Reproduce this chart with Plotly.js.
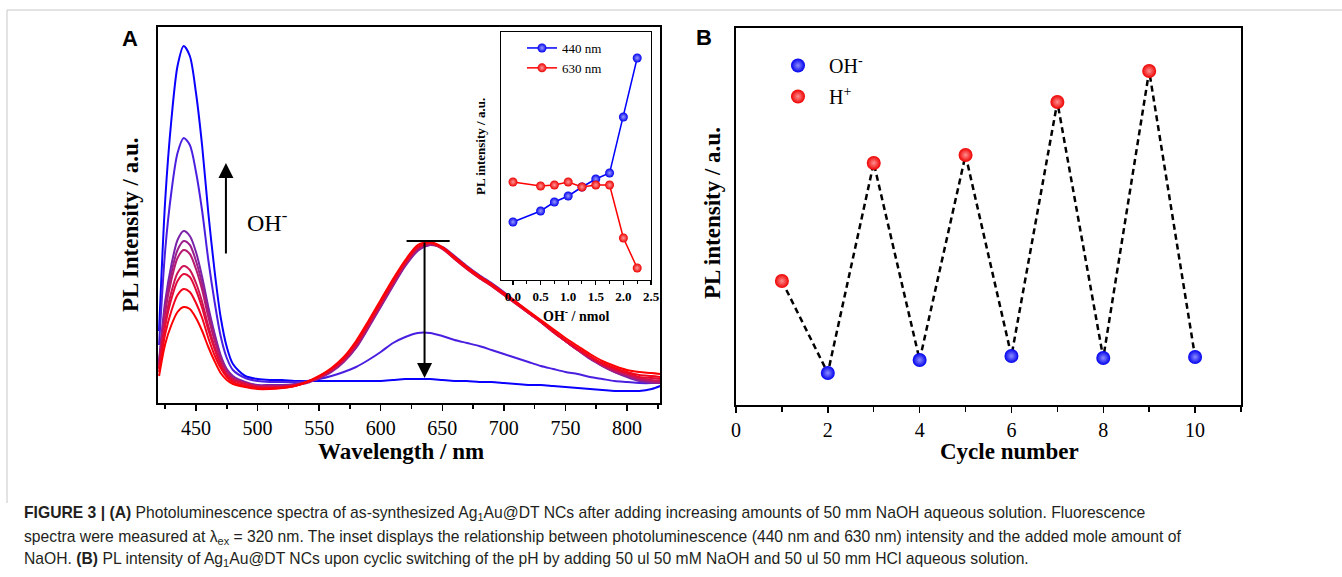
<!DOCTYPE html>
<html><head><meta charset="utf-8">
<script src="https://cdn.plot.ly/plotly-3.0.1.min.js"></script>
<style>html,body{margin:0;padding:0;background:#fff}#chart{width:1342px;height:577px}</style>
</head><body><div id="chart"></div>
<script>
// ---------- Panel A: PL spectra (wavelength in nm, intensity in a.u.) ----------
const wavelength = [420,425,430,435,440,445,450,455,460,465,470,475,480,490,500,510,520,530,540,550,560,570,580,590,600,610,620,630,640,650,660,670,680,690,700,710,720,730,740,750,760,770,780,790,800,810,820,827];
const naoh_nmol = [0, 0.5, 0.75, 1.0, 1.25, 1.5, 1.75, 2.0, 2.25];
const pl_000 = [27,59,78,91,96,94,85,72,56,42,30,23,19,16,14,14,15,17,21,27,35,46,62,82,103,124,143,158,161,156,146,136,127,119,110,101,92,83,74,65,57,49,42,37,33,31,30,29];
const pl_050 = [31,69,92,108,114,111,100,85,65,48,35,26,21,17,15,15,15,17,21,27,34,45,60,80,101,122,141,156,160,155,145,135,126,118,109,100,91,82,72,63,55,47,40,35,31,28,27,26];
const pl_075 = [34,77,104,122,129,126,113,95,73,54,38,28,23,19,16,15,16,17,21,26,34,44,59,79,100,121,141,156,160,155,144,134,125,117,108,99,90,81,71,62,54,46,39,34,30,26,25,24];
const pl_100 = [35,82,111,130,137,133,120,101,77,57,40,29,23,19,16,16,16,18,21,26,33,43,58,78,99,120,140,155,160,154,144,134,125,117,108,99,90,81,71,62,53,45,38,33,29,25,23,22];
const pl_125 = [38,91,123,145,153,149,134,113,86,63,44,32,25,20,17,17,17,18,21,25,32,42,57,77,98,119,139,154,159,155,145,135,126,118,109,100,90,81,71,62,53,45,38,32,28,24,22,21];
const pl_150 = [40,96,130,153,162,158,142,119,90,66,45,32,25,20,17,17,17,18,20,25,32,42,56,76,97,118,138,153,158,155,146,136,127,119,110,101,91,82,72,62,53,45,37,31,27,23,21,20];
const pl_175 = [42,102,138,163,172,167,151,126,96,70,48,34,27,21,18,18,18,19,21,25,31,41,55,75,96,117,137,152,158,156,147,137,128,120,111,101,91,82,72,62,53,44,37,31,26,22,20,20];
const pl_200 = [58,153,211,250,265,258,231,192,143,102,67,45,33,25,22,21,21,21,22,24,27,31,36,43,51,60,66,70,70,67,63,60,57,53,49,45,41,37,34,31,29,26,24,22,21,20,20,21];
const pl_225 = [72,203,283,337,357,347,310,257,190,133,86,56,39,27,24,23,23,22,22,22,22,22,22,22,22,23,24,24,24,23,22,22,21,21,20,19,18,18,17,16,15,14,13,12,12,12,14,17];
const spectra = [pl_000, pl_050, pl_075, pl_100, pl_125, pl_150, pl_175, pl_200, pl_225];
const wl_ticks = [450, 500, 550, 600, 650, 700, 750, 800];

// ---------- Inset: peak intensity vs added OH- ----------
const inset_nmol = [0, 0.5, 0.75, 1.0, 1.25, 1.5, 1.75, 2.0, 2.25];
const inset_440 = [58, 69, 78, 84, 93, 101, 107, 163, 222];
const inset_630 = [98, 94, 95, 98, 93, 95, 95, 42, 12];

// ---------- Panel B: cyclic switching ----------
const cycle_number = [1, 2, 3, 4, 5, 6, 7, 8, 9, 10];
const cycle_intensity = [124, 32, 242, 45, 250, 49, 303, 47, 334, 48];
const cycle_reagent = ['H+', 'OH-', 'H+', 'OH-', 'H+', 'OH-', 'H+', 'OH-', 'H+', 'OH-'];

// ---------- styles ----------
const spectraColors = ['#ff0000', '#f2061c', '#e20c38', '#cd1454', '#b41a70', '#9a1f8c', '#7a22aa', '#4a1fe0', '#0a00ff'];
const W = 1342, H = 577;
const fx = p => p / W;
const fy = p => 1 - p / H;
const SERIF = 'Liberation Serif, Times New Roman, serif';
const SANS = 'Liberation Sans, Arial, sans-serif';

const traces = [];
for (let i = spectra.length - 1; i >= 0; i--) {
  traces.push({
    x: wavelength, y: spectra[i], xaxis: 'x', yaxis: 'y', type: 'scatter', mode: 'lines',
    name: naoh_nmol[i] + ' nmol', showlegend: false,
    line: {color: spectraColors[i], width: 2, shape: 'spline', smoothing: 0.8}
  });
}
traces.push({
  x: inset_nmol, y: inset_440, xaxis: 'x2', yaxis: 'y2', type: 'scatter', mode: 'lines+markers',
  name: '440 nm', legend: 'legend',
  line: {color: '#0000ff', width: 1.5},
  marker: {size: 9, color: '#0000ee', gradient: {type: 'radial', color: '#9a9aff'}}
});
traces.push({
  x: inset_nmol, y: inset_630, xaxis: 'x2', yaxis: 'y2', type: 'scatter', mode: 'lines+markers',
  name: '630 nm', legend: 'legend',
  line: {color: '#ff0000', width: 1.5},
  marker: {size: 9, color: '#ee0000', gradient: {type: 'radial', color: '#ff9a9a'}}
});
traces.push({
  x: cycle_number, y: cycle_intensity, xaxis: 'x3', yaxis: 'y3', type: 'scatter', mode: 'lines',
  showlegend: false, line: {color: '#000', width: 2.5, dash: '6px,4px'}
});
const pick = (arr, tag) => arr.filter((v, i) => cycle_reagent[i] === tag);
traces.push({
  x: pick(cycle_number, 'OH-'), y: pick(cycle_intensity, 'OH-'), xaxis: 'x3', yaxis: 'y3',
  type: 'scatter', mode: 'markers', name: 'OH<sup>-</sup>', legend: 'legend2', legendgroup: 'oh',
  marker: {size: 14, color: '#0000ee', gradient: {type: 'radial', color: '#8c8cff'}}
});
traces.push({
  x: pick(cycle_number, 'H+'), y: pick(cycle_intensity, 'H+'), xaxis: 'x3', yaxis: 'y3',
  type: 'scatter', mode: 'markers', name: 'H<sup>+</sup>', legend: 'legend2', legendgroup: 'h',
  marker: {size: 14, color: '#ee0000', gradient: {type: 'radial', color: '#ff9090'}}
});

const frame = {showline: true, linecolor: '#000', mirror: true, showgrid: false, zeroline: false};
function note(xp, yp, text, font, extra) {
  return Object.assign({xref: 'paper', yref: 'paper', x: fx(xp), y: fy(yp), xanchor: 'center', yanchor: 'middle',
    text: text, showarrow: false, font: font}, extra || {});
}
const capFont = {family: SANS, size: 15.7, color: '#231f20'};
const layout = {
  width: W, height: H, margin: {l: 0, r: 0, t: 0, b: 0},
  paper_bgcolor: '#fff', plot_bgcolor: 'rgba(0,0,0,0)',
  showlegend: true,
  xaxis: Object.assign({}, frame, {
    domain: [fx(158), fx(660)], range: [419.14, 826.8], anchor: 'y', linewidth: 2,
    tickvals: wl_ticks, ticks: 'outside', ticklen: 6, tickwidth: 1.5, tickcolor: '#000',
    minor: {dtick: 25, tick0: 425, ticks: 'outside', ticklen: 4, tickwidth: 1.5, tickcolor: '#000'},
    tickfont: {family: SERIF, size: 20, color: '#000'}
  }),
  yaxis: Object.assign({}, frame, {
    domain: [fy(403), fy(27)], range: [0, 376], anchor: 'x', linewidth: 2,
    ticks: '', showticklabels: false
  }),
  xaxis2: Object.assign({}, frame, {
    domain: [fx(501), fx(651)], range: [-0.217, 2.5], anchor: 'y2', linewidth: 1.3,
    tick0: 0, dtick: 0.5, tickformat: '.1f', ticks: 'outside', ticklen: 4, tickwidth: 1.2, tickcolor: '#000',
    minor: {dtick: 0.25, ticks: 'outside', ticklen: 3, tickwidth: 1, tickcolor: '#000'},
    tickfont: {family: SERIF, size: 13, color: '#000', weight: 'bold'}
  }),
  yaxis2: Object.assign({}, frame, {
    domain: [fy(280), fy(32)], range: [0, 248], anchor: 'x2', linewidth: 1.3,
    ticks: '', showticklabels: false
  }),
  xaxis3: Object.assign({}, frame, {
    domain: [fx(736), fx(1241)], range: [0, 11], anchor: 'y3', linewidth: 2,
    tick0: 0, dtick: 2, ticks: 'outside', ticklen: 6, tickwidth: 1.5, tickcolor: '#000',
    minor: {dtick: 1, ticks: 'outside', ticklen: 5, tickwidth: 1.5, tickcolor: '#000'},
    tickfont: {family: SERIF, size: 20, color: '#000'}
  }),
  yaxis3: Object.assign({}, frame, {
    domain: [fy(405), fy(28)], range: [0, 377], anchor: 'x3', linewidth: 2,
    ticks: '', showticklabels: false
  }),
  legend: {
    x: fx(522), y: fy(33), xanchor: 'left', yanchor: 'top', bgcolor: 'rgba(0,0,0,0)',
    font: {family: SERIF, size: 13, color: '#000'}, itemwidth: 30, tracegroupgap: 0
  },
  legend2: {
    x: fx(767), y: fy(46), xanchor: 'left', yanchor: 'top', bgcolor: 'rgba(0,0,0,0)',
    font: {family: SERIF, size: 20, color: '#000'}, itemwidth: 52, tracegroupgap: 2
  },
  shapes: [
    {type: 'line', xref: 'paper', yref: 'paper', x0: fx(7), x1: 1, y0: fy(10), y1: fy(10), line: {color: '#c8c8c8', width: 1}},
    {type: 'line', xref: 'paper', yref: 'paper', x0: fx(7), x1: fx(7), y0: fy(10), y1: fy(503), line: {color: '#c8c8c8', width: 1}},
    {type: 'line', xref: 'x', yref: 'y', x0: 621, x1: 656, y0: 162, y1: 162, line: {color: '#000', width: 2}}
  ],
  annotations: [
    note(130, 38, '<b>A</b>', {family: SANS, size: 22, color: '#000'}),
    note(704, 37, '<b>B</b>', {family: SANS, size: 22, color: '#000'}),
    note(130, 225, '<b>PL Intensity / a.u.</b>', {family: SERIF, size: 23, color: '#000'}, {textangle: -90}),
    note(401, 451, '<b>Wavelength / nm</b>', {family: SERIF, size: 23, color: '#000'}),
    note(267, 221, 'OH<sup>-</sup>', {family: SERIF, size: 24, color: '#000'}),
    note(480, 147, '<b>PL intensity / a.u.</b>', {family: SERIF, size: 13, color: '#000'}, {textangle: -90}),
    note(576, 315, '<b>OH<sup>-</sup> / nmol</b>', {family: SERIF, size: 14, color: '#000'}),
    note(712, 213, '<b>PL intensity / a.u.</b>', {family: SERIF, size: 23, color: '#000'}, {textangle: -90}),
    note(1009, 451, '<b>Cycle number</b>', {family: SERIF, size: 23, color: '#000'}),
    {xref: 'x', yref: 'y', x: 474.3, y: 240, axref: 'x', ayref: 'y', ax: 474.3, ay: 148, text: '', showarrow: true, arrowhead: 2, arrowsize: 1.5, arrowwidth: 2, arrowcolor: '#000'},
    {xref: 'x', yref: 'y', x: 635.6, y: 25, axref: 'x', ayref: 'y', ax: 635.6, ay: 162, text: '', showarrow: true, arrowhead: 2, arrowsize: 1.5, arrowwidth: 2, arrowcolor: '#000'},
    note(22, 513, '<b>FIGURE 3 | (A)</b> Photoluminescence spectra of as-synthesized Ag<sub>1</sub>Au@DT NCs after adding increasing amounts of 50 mm NaOH aqueous solution. Fluorescence', capFont, {xanchor: 'left'}),
    note(22, 537, 'spectra were measured at λ<sub>ex</sub> = 320 nm. The inset displays the relationship between photoluminescence (440 nm and 630 nm) intensity and the added mole amount of', capFont, {xanchor: 'left'}),
    note(22, 559, 'NaOH. <b>(B)</b> PL intensity of Ag<sub>1</sub>Au@DT NCs upon cyclic switching of the pH by adding 50 ul 50 mM NaOH and 50 ul 50 mm HCl aqueous solution.', capFont, {xanchor: 'left'})
  ]
};
Plotly.newPlot('chart', traces, layout, {staticPlot: true, displayModeBar: false});
</script>
</body></html>
